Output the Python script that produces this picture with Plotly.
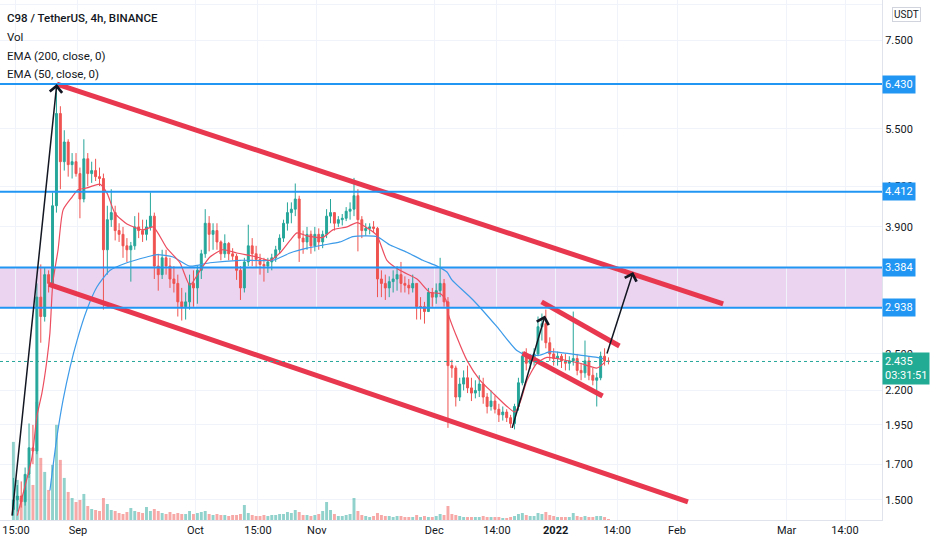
import numpy as np
import pandas as pd
import plotly.graph_objects as go

# C98 / TetherUS (Binance), kept as daily candles
days = pd.date_range("2021-08-15 12:00", "2022-01-14 12:00", freq="D")
first_open = 1.45

high = (
    [1.62, 1.58, 1.60, 1.68, 1.96, 1.95, 3.20, 3.42, 3.38, 3.35, 4.40, 6.43, 5.95, 5.47, 5.30, 5.05, 5.05]  # aug
    + [4.80, 5.30, 5.05, 4.90, 4.95, 4.80, 4.70, 4.20, 4.45, 4.20, 3.95, 3.90, 3.75, 3.70, 4.05,
       4.10, 4.00, 4.00, 4.40, 4.10, 3.55, 3.60, 3.60, 3.50, 3.40, 3.30, 3.15, 3.10, 3.30, 3.35]  # sep
    + [3.40, 3.60, 4.15, 4.05, 3.95, 3.95, 3.72, 3.80, 3.70, 3.62, 3.55, 3.40, 3.50, 3.93, 3.75, 3.65,
       3.55, 3.50, 3.50, 3.55, 3.65, 3.80, 4.00, 4.25, 4.25, 4.54, 4.35, 3.85, 3.90, 3.85, 3.90]  # oct
    + [3.88, 3.85, 4.15, 4.30, 4.10, 4.05, 4.08, 4.18, 4.25, 4.63, 4.45, 4.05, 3.95, 3.95, 3.98,
       3.90, 3.35, 3.30, 3.28, 3.35, 3.40, 3.45, 3.28, 3.25, 3.30, 3.20, 3.05, 3.00, 3.15, 3.15]  # nov
    + [3.20, 3.50, 3.25, 3.05, 2.45, 2.40, 2.30, 2.36, 2.40, 2.30, 2.28, 2.32, 2.30, 2.18, 2.20, 2.16,
       2.10, 2.08, 2.06, 2.02, 2.10, 2.30, 2.52, 2.55, 2.50, 2.55, 2.85, 2.88, 2.92, 2.65, 2.55]  # dec
    + [2.52, 2.50, 2.50, 2.48, 2.90, 2.50, 2.42, 2.62, 2.48, 2.38, 2.34, 2.52, 2.55, 2.47]  # jan
)
low = (
    [1.42, 1.44, 1.46, 1.47, 1.62, 1.70, 1.76, 2.60, 2.80, 3.10, 3.15, 4.10, 4.45, 4.75, 4.65, 4.62, 4.65]
    + [4.02, 4.25, 4.50, 4.55, 4.58, 4.50, 2.92, 3.30, 3.90, 3.72, 3.70, 3.50, 3.45, 3.22, 3.60,
       3.75, 3.70, 3.72, 3.85, 3.25, 3.12, 3.25, 3.30, 3.15, 3.10, 2.85, 2.81, 2.82, 2.92, 2.95]
    + [2.98, 3.25, 3.50, 3.58, 3.60, 3.60, 3.47, 3.50, 3.47, 3.47, 3.24, 3.02, 3.10, 3.40, 3.40, 3.38,
       3.30, 3.22, 3.32, 3.35, 3.45, 3.55, 3.70, 3.85, 3.95, 4.05, 3.45, 3.55, 3.60, 3.55, 3.58]
    + [3.60, 3.62, 3.75, 3.95, 3.85, 3.90, 3.92, 3.98, 4.00, 4.05, 3.58, 3.75, 3.78, 3.80, 3.82,
       3.05, 3.05, 3.02, 3.05, 3.10, 3.12, 3.10, 3.10, 3.08, 3.10, 2.82, 2.82, 2.78, 2.90, 2.95]
    + [2.98, 3.05, 2.95, 1.93, 2.30, 2.08, 2.12, 2.20, 2.18, 2.12, 2.14, 2.15, 2.10, 2.03, 2.05, 2.03,
       1.97, 1.98, 1.97, 1.93, 1.92, 2.05, 2.24, 2.36, 2.37, 2.40, 2.48, 2.62, 2.55, 2.44, 2.40]
    + [2.40, 2.38, 2.36, 2.36, 2.40, 2.32, 2.28, 2.30, 2.28, 2.24, 2.08, 2.28, 2.40, 2.41]
)
close = (
    [1.50, 1.52, 1.49, 1.64, 1.80, 1.78, 3.05, 2.85, 3.30, 3.20, 4.20, 5.80, 4.90, 5.25, 4.85, 4.90, 4.70]
    + [4.30, 4.95, 4.70, 4.75, 4.65, 4.62, 3.60, 4.00, 4.10, 3.85, 3.80, 3.65, 3.60, 3.65, 3.90,
       3.85, 3.80, 3.90, 4.05, 3.40, 3.30, 3.50, 3.40, 3.25, 3.20, 3.00, 2.95, 3.00, 3.20, 3.15]
    + [3.35, 3.55, 3.95, 3.80, 3.85, 3.70, 3.55, 3.68, 3.55, 3.52, 3.35, 3.15, 3.45, 3.65, 3.55, 3.48,
       3.42, 3.40, 3.45, 3.50, 3.60, 3.75, 3.95, 4.10, 4.15, 4.30, 3.75, 3.70, 3.80, 3.65, 3.80]
    + [3.70, 3.80, 4.05, 4.10, 3.95, 4.00, 4.02, 4.12, 4.15, 4.35, 4.00, 3.85, 3.88, 3.90, 3.88,
       3.25, 3.20, 3.15, 3.22, 3.25, 3.30, 3.20, 3.18, 3.15, 3.20, 2.95, 2.95, 2.90, 3.10, 3.05]
    + [3.12, 3.20, 3.00, 2.40, 2.38, 2.15, 2.25, 2.30, 2.22, 2.18, 2.20, 2.25, 2.15, 2.08, 2.12, 2.06,
       2.02, 2.04, 2.00, 1.96, 2.08, 2.26, 2.48, 2.42, 2.45, 2.50, 2.75, 2.78, 2.60, 2.50, 2.46]
    + [2.48, 2.44, 2.42, 2.44, 2.46, 2.36, 2.34, 2.44, 2.32, 2.28, 2.30, 2.48, 2.44, 2.435]
)
volume = (
    [78, 40, 22, 30, 45, 35, 118, 62, 48, 30, 55, 95, 60, 42, 28, 22, 18]
    + [20, 26, 14, 11, 10, 9, 22, 16, 10, 9, 7, 6, 8, 12, 9, 8, 7, 13, 9, 11, 9, 7, 6, 8, 6, 7, 6, 6, 9, 6]
    + [7, 8, 9, 6, 5, 6, 5, 5, 4, 5, 5, 6, 15, 7, 5, 4, 4, 5, 4, 5, 5, 6, 6, 8, 7, 10, 8, 5, 5, 4, 5]
    + [6, 9, 18, 10, 6, 4, 4, 5, 6, 22, 9, 5, 4, 3, 4, 7, 5, 4, 4, 3, 4, 4, 3, 3, 3, 5, 3, 4, 3, 3]
    + [4, 6, 5, 14, 6, 5, 4, 3, 3, 3, 3, 3, 4, 3, 3, 3, 3, 2, 2, 3, 4, 6, 7, 5, 4, 4, 7, 6, 8, 5, 4]
    + [3, 3, 3, 3, 7, 4, 3, 4, 3, 3, 4, 4, 3, 1]
)
# crypto trades round the clock: each candle opens at the previous close
opens = [first_open] + close[:-1]

# EMA lines
ema200_t = ["2021-08-24 20:00", "2021-08-26 15:00", "2021-08-28 05:00", "2021-08-30 00:00", "2021-08-31 18:00",
            "2021-09-03 07:00", "2021-09-05 20:00", "2021-09-09 05:00", "2021-09-13 12:00", "2021-09-18 14:00",
            "2021-09-21 05:00", "2021-09-25 07:00", "2021-09-29 14:00", "2021-10-04 17:00", "2021-10-12 10:00",
            "2021-10-20 19:00", "2021-10-25 04:00", "2021-10-29 12:00", "2021-11-02 14:00", "2021-11-06 22:00",
            "2021-11-10 05:00", "2021-11-13 19:00", "2021-11-16 10:00", "2021-11-19 17:00", "2021-11-24 00:00",
            "2021-11-28 02:00", "2021-12-01 17:00", "2021-12-04 06:00", "2021-12-05 12:00", "2021-12-10 22:00",
            "2021-12-17 00:00", "2021-12-22 02:00", "2021-12-24 17:00", "2021-12-28 00:00", "2021-12-30 14:00",
            "2022-01-02 22:00", "2022-01-07 05:00", "2022-01-11 14:00", "2022-01-13 02:00"]
ema200_v = [1.55, 1.87, 2.13, 2.39, 2.62, 2.92, 3.16, 3.35, 3.44, 3.51, 3.54, 3.51, 3.40, 3.44, 3.47,
            3.47, 3.56, 3.62, 3.66, 3.70, 3.77, 3.78, 3.77, 3.66, 3.57, 3.47, 3.40, 3.33, 3.24, 3.02,
            2.75, 2.53, 2.49, 2.49, 2.52, 2.51, 2.49, 2.47, 2.46]
ema50_t = ["2021-08-16 12:00", "2021-08-20 06:00", "2021-08-21 12:00", "2021-08-22 19:00", "2021-08-24 02:00",
           "2021-08-24 20:00", "2021-08-25 14:00", "2021-08-26 22:00", "2021-08-28 05:00", "2021-08-30 12:00",
           "2021-09-01 00:00", "2021-09-03 07:00", "2021-09-06 14:00", "2021-09-08 10:00", "2021-09-10 11:00",
           "2021-09-13 12:00", "2021-09-17 14:00", "2021-09-20 05:00", "2021-09-23 17:00", "2021-09-27 01:00",
           "2021-09-29 14:00", "2021-10-02 05:00", "2021-10-04 17:00", "2021-10-08 00:00", "2021-10-11 14:00",
           "2021-10-16 17:00", "2021-10-20 00:00", "2021-10-22 14:00", "2021-10-25 04:00", "2021-10-26 22:00",
           "2021-10-29 12:00", "2021-11-02 14:00", "2021-11-05 02:00", "2021-11-08 17:00", "2021-11-11 07:00",
           "2021-11-14 14:00", "2021-11-16 10:00", "2021-11-18 22:00", "2021-11-22 05:00", "2021-11-26 14:00",
           "2021-11-29 22:00", "2021-12-02 12:00", "2021-12-04 00:00", "2021-12-04 12:00", "2021-12-06 19:00",
           "2021-12-09 10:00", "2021-12-12 17:00", "2021-12-16 00:00", "2021-12-19 14:00", "2021-12-21 14:00",
           "2021-12-22 22:00", "2021-12-24 17:00", "2021-12-27 05:00", "2021-12-29 19:00", "2022-01-02 22:00",
           "2022-01-07 05:00", "2022-01-11 14:00", "2022-01-13 14:00"]
ema50_v = [1.42, 1.74, 2.01, 2.18, 2.45, 2.69, 3.21, 3.60, 4.14, 4.33, 4.44, 4.47, 4.53, 4.39, 4.09,
           3.94, 3.86, 3.90, 3.62, 3.44, 3.18, 3.35, 3.51, 3.60, 3.56, 3.51, 3.47, 3.56, 3.72, 3.82,
           3.78, 3.76, 3.86, 3.90, 3.96, 3.86, 3.78, 3.47, 3.35, 3.25, 3.10, 3.09, 3.02, 2.885, 2.65,
           2.44, 2.28, 2.18, 2.08, 2.04, 2.11, 2.28, 2.42, 2.47, 2.45, 2.42, 2.38, 2.43]

# drawings on the chart: (start time, start price, end time, end price)
channel_lines = [
    ("2021-08-26 15:00", 6.43, "2022-02-12 19:00", 2.978),
    ("2021-08-24 14:00", 3.19, "2022-02-03 19:00", 1.489),
    ("2021-12-28 10:00", 3.00, "2022-01-17 07:00", 2.571),
    ("2021-12-23 14:00", 2.506, "2022-01-13 00:00", 2.158),
]
arrows = [
    ("2021-08-15 03:00", 1.412, "2021-08-26 14:00", 6.43),
    ("2021-12-20 19:00", 1.92, "2021-12-29 07:00", 2.86),
    ("2022-01-14 00:00", 2.49, "2022-01-20 19:00", 3.33),
]
levels = [6.430, 4.412, 3.384, 2.938]
zone = (2.938, 3.384)
last_price = 2.435
countdown = "03:31:51"

time_ticks = ["2021-08-16 04:00", "2021-09-01", "2021-10-01", "2021-10-16 23:00", "2021-11-01", "2021-12-01",
              "2021-12-17 00:00", "2022-01-01", "2022-01-16 17:00", "2022-02-01", "2022-03-01", "2022-03-15 22:00"]
time_labels = ["15:00", "Sep", "Oct", "15:00", "Nov", "Dec", "14:00", "<b>2022</b>", "14:00", "Feb", "Mar", "14:00"]
price_ticks = [1.5, 1.7, 1.95, 2.2, 2.5, 3.9, 4.5, 5.5, 7.5, 8.5]

UP, DOWN = "#26a69a", "#ef5350"
FONT = "Roboto, sans-serif"
TXT = "#131722"


def tv_font(size, color=TXT, weight=400):
    return dict(family=FONT, size=size, color=color, weight=weight)


fig = go.Figure()

vol_colors = ["rgba(38,166,154,0.5)" if c >= o else "rgba(239,83,80,0.5)" for o, c in zip(opens, close)]
fig.add_trace(go.Bar(x=days, y=volume, marker=dict(color=vol_colors, line=dict(width=0)),
                     width=0.75 * 86400000, yaxis="y", hoverinfo="skip"))

fig.add_trace(go.Candlestick(
    x=days, open=opens, high=high, low=low, close=close, yaxis="y2", whiskerwidth=0,
    increasing=dict(line=dict(color=UP, width=1), fillcolor=UP),
    decreasing=dict(line=dict(color=DOWN, width=1), fillcolor=DOWN),
))

fig.add_trace(go.Scatter(x=ema200_t, y=ema200_v, yaxis="y2", mode="lines",
                         line=dict(color="#3d9be9", width=1.2, shape="spline", smoothing=0.6)))
fig.add_trace(go.Scatter(x=ema50_t, y=ema50_v, yaxis="y2", mode="lines",
                         line=dict(color="#ec4d5f", width=1.2, shape="spline", smoothing=0.6)))

for t0, p0, t1, p1 in channel_lines:
    fig.add_trace(go.Scatter(x=[t0, t1], y=[p0, p1], yaxis="y2", mode="lines",
                             line=dict(color="#e8384f", width=5)))

shapes = [dict(type="rect", xref="paper", x0=0, x1=1, yref="y2", y0=zone[0], y1=zone[1],
               fillcolor="rgba(156,39,176,0.2)", line=dict(width=0), layer="below")]
for lv in levels:
    shapes.append(dict(type="line", xref="paper", x0=0, x1=1, yref="y2", y0=lv, y1=lv,
                       line=dict(color="#2196f3", width=2)))
shapes.append(dict(type="line", xref="paper", x0=0, x1=1, yref="y2", y0=last_price, y1=last_price,
                   line=dict(color=UP, width=1, dash="dot")))

annotations = []
for t0, p0, t1, p1 in arrows:
    annotations.append(dict(x=t1, y=np.log10(p1), xref="x", yref="y2", ax=t0, ay=np.log10(p0),
                            axref="x", ayref="y2", text="", showarrow=True, arrowhead=4,
                            arrowsize=1.6, arrowwidth=1.5, arrowcolor=TXT, standoff=0))
for lv in levels:
    annotations.append(dict(x=1, xref="paper", xanchor="left", y=np.log10(lv), yref="y2",
                            text=f"{lv:.3f}", showarrow=False, bgcolor="#2196f3", borderpad=2,
                            font=tv_font(11, "white")))
annotations.append(dict(x=1, xref="paper", xanchor="left", y=np.log10(last_price), yref="y2",
                        yanchor="top", yshift=9, align="left",
                        text=f"{last_price:.3f}<br>{countdown}", showarrow=False, bgcolor="#22ab94",
                        borderpad=2, font=tv_font(11, "white")))
annotations.append(dict(x=1, xref="paper", xanchor="left", xshift=10, y=1, yref="paper", yanchor="top",
                        yshift=-7, text="USDT", showarrow=False, bgcolor="white", bordercolor="#d1d4dc",
                        borderwidth=1, borderpad=1, font=tv_font(10)))

legend_rows = [("C98 / TetherUS, 4h, BINANCE", 18, 500), ("Vol", 37, 400),
               ("EMA (200, close, 0)", 56, 400), ("EMA (50, close, 0)", 74, 400)]
for txt, ypx, w in legend_rows:
    annotations.append(dict(x=0, xref="paper", xanchor="left", xshift=5, y=1 - ypx / 520, yref="paper",
                            yanchor="middle", text=txt, showarrow=False, font=tv_font(11.5, TXT, w)))

fig.update_layout(
    width=932, height=550,
    margin=dict(l=0, r=50, t=0, b=30, autoexpand=False),
    paper_bgcolor="white", plot_bgcolor="white",
    showlegend=False,
    font=tv_font(11),
    shapes=shapes, annotations=annotations,
    xaxis=dict(type="date", range=["2021-08-12 02:00", "2022-03-25 08:40"],
               tickmode="array", tickvals=time_ticks, ticktext=time_labels, automargin=False,
               showgrid=True, gridcolor="#f0f3fa", ticks="", showline=True, linecolor="#e0e3eb",
               rangeslider=dict(visible=False), tickfont=tv_font(11)),
    yaxis=dict(range=[0, max(volume) * 4.4], visible=False, showgrid=False),
    yaxis2=dict(type="log", overlaying="y", side="right", anchor="x", automargin=False,
                range=[np.log10(1.398), np.log10(8.63)],
                tickmode="array", tickvals=price_ticks, tickformat=".3f",
                showgrid=True, gridcolor="#f0f3fa", zeroline=False, ticks="",
                showline=True, linecolor="#e0e3eb", tickfont=tv_font(11)),
)

# the page body keeps its default 8px margin otherwise, which shifts the whole figure
fig.write_html("out.html", config={"displayModeBar": False},
               post_script="document.body.style.margin='0';")
